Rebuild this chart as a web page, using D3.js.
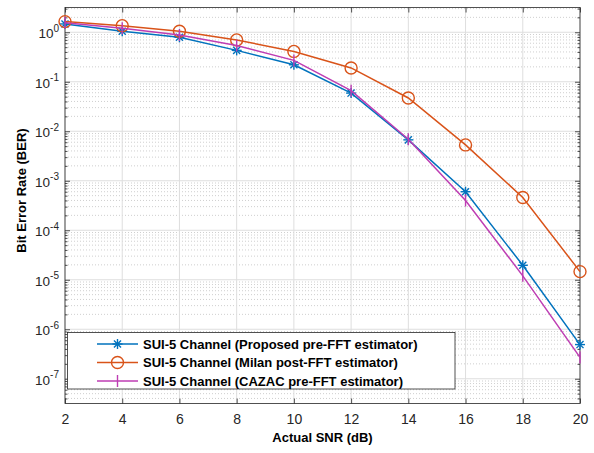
<!DOCTYPE html>
<html>
<head>
<meta charset="utf-8">
<script src="https://cdn.jsdelivr.net/npm/d3@7"></script>
<style>
  html, body { margin: 0; padding: 0; background: #ffffff; }
  svg { display: block; font-family: "Liberation Sans", Arial, sans-serif; }
</style>
</head>
<body>
<div id="chart"></div>
<script>
// ---------- data ----------
const snr = [2, 4, 6, 8, 10, 12, 14, 16, 18, 20];
const proposed = [1.47, 1.05, 0.79, 0.43, 0.22, 0.059, 0.0067, 6.0e-4, 1.96e-5, 4.9e-7];
const milan    = [1.64, 1.36, 1.05, 0.70, 0.41, 0.19, 0.047, 0.0053, 4.6e-4, 1.46e-5];
const cazac    = [1.55, 1.2, 0.88, 0.54, 0.27, 0.066, 0.0069, 4.0e-4, 1.2e-5, 2.7e-7];
const seriesNames = [
  "SUI-5 Channel (Proposed pre-FFT estimator)",
  "SUI-5 Channel (Milan post-FFT estimator)",
  "SUI-5 Channel (CAZAC pre-FFT estimator)"
];
const xTicks = [2, 4, 6, 8, 10, 12, 14, 16, 18, 20];
const yExponents = [0, -1, -2, -3, -4, -5, -6, -7];
const xLabel = "Actual SNR (dB)";
const yLabel = "Bit Error Rate (BER)";

// ---------- layout ----------
const W = 594, H = 453;
const L = 65, R = 580, T = 7.5, B = 403.5;
const axisColor = "#262626";
const colors = ["#0072BD", "#D95319", "#BE3DB3"];

const svg = d3.select("#chart").append("svg").attr("width", W).attr("height", H);
svg.append("rect").attr("width", W).attr("height", H).attr("fill", "#fff");

const x = d3.scaleLinear().domain([2, 20]).range([L, R]);
const y = d3.scaleLog().domain([Math.pow(10, -7.5), Math.pow(10, 0.5)]).range([B, T]);

// minor values
const minorVals = [];
for (let e = -8; e <= 0; e++) {
  for (let k = 2; k <= 9; k++) {
    const v = k * Math.pow(10, e);
    if (v > y.domain()[0] && v < y.domain()[1]) minorVals.push(v);
  }
}
const majorVals = yExponents.map(e => Math.pow(10, e));

const grid = svg.append("g");
grid.selectAll("line.minor").data(minorVals).join("line")
  .attr("x1", L).attr("x2", R)
  .attr("y1", d => y(d)).attr("y2", d => y(d))
  .attr("stroke", "#cfcfcf").attr("stroke-width", 1)
  .attr("stroke-dasharray", "1,2");
grid.selectAll("line.hmaj").data(majorVals).join("line")
  .attr("x1", L).attr("x2", R)
  .attr("y1", d => y(d)).attr("y2", d => y(d))
  .attr("stroke", "#dedede").attr("stroke-width", 1);
grid.selectAll("line.vmaj").data(xTicks).join("line")
  .attr("x1", d => x(d)).attr("x2", d => x(d))
  .attr("y1", T).attr("y2", B)
  .attr("stroke", "#dedede").attr("stroke-width", 1);

// ---------- axes (D3 axes, inward ticks) ----------
const xAxisB = d3.axisBottom(x).tickValues(xTicks).tickSizeInner(-5).tickSizeOuter(0).tickPadding(10.5).tickFormat(d3.format("d"));
const gxb = svg.append("g").attr("transform", `translate(0,${B})`).call(xAxisB);
const xAxisT = d3.axisTop(x).tickValues(xTicks).tickSizeInner(-5).tickSizeOuter(0).tickFormat("");
const gxt = svg.append("g").attr("transform", `translate(0,${T})`).call(xAxisT);

const yAxisL = d3.axisLeft(y).tickValues(majorVals).tickSizeInner(-5).tickSizeOuter(0).tickFormat("");
const gyl = svg.append("g").attr("transform", `translate(${L},0)`).call(yAxisL);
const yAxisR = d3.axisRight(y).tickValues(majorVals).tickSizeInner(-5).tickSizeOuter(0).tickFormat("");
const gyr = svg.append("g").attr("transform", `translate(${R},0)`).call(yAxisR);
const yMinL = d3.axisLeft(y).tickValues(minorVals).tickSizeInner(-2.5).tickSizeOuter(0).tickFormat("");
const gml = svg.append("g").attr("transform", `translate(${L},0)`).call(yMinL);
const yMinR = d3.axisRight(y).tickValues(minorVals).tickSizeInner(-2.5).tickSizeOuter(0).tickFormat("");
const gmr = svg.append("g").attr("transform", `translate(${R},0)`).call(yMinR);

[gxb, gxt, gyl, gyr, gml, gmr].forEach(g => {
  g.select(".domain").remove();
  g.selectAll(".tick line").attr("stroke", axisColor).attr("stroke-width", 0.8);
});
gxb.selectAll(".tick text").attr("fill", axisColor).attr("font-size", 14)
  .attr("font-family", "Liberation Sans, Arial, sans-serif");

// y tick labels 10^e
const ylab = svg.append("g");
yExponents.forEach(e => {
  const t = ylab.append("text")
    .attr("x", L - 6).attr("y", y(Math.pow(10, e)) + 6)
    .attr("text-anchor", "end").attr("fill", axisColor)
    .attr("font-size", 13.5);
  t.append("tspan").text("10");
  t.append("tspan").attr("dy", -6.5).attr("font-size", 10).text(String(e));
});

// box
svg.append("rect").attr("x", L).attr("y", T).attr("width", R - L).attr("height", B - T)
  .attr("fill", "none").attr("stroke", axisColor).attr("stroke-width", 0.8);

// ---------- series ----------
const allSeries = [proposed, milan, cazac];
const line = d3.line().x((d, i) => x(snr[i])).y(d => y(d));
const plot = svg.append("g");

function drawMarker(g, type, cx, cy, color) {
  if (type === 0) {
    const r = 5;
    for (let a = 0; a < 4; a++) {
      const ang = a * Math.PI / 4;
      g.append("line")
        .attr("x1", cx - r * Math.cos(ang)).attr("y1", cy - r * Math.sin(ang))
        .attr("x2", cx + r * Math.cos(ang)).attr("y2", cy + r * Math.sin(ang))
        .attr("stroke", color).attr("stroke-width", 1.4);
    }
  } else if (type === 1) {
    g.append("circle").attr("cx", cx).attr("cy", cy).attr("r", 6)
      .attr("fill", "none").attr("stroke", color).attr("stroke-width", 1.4);
  } else {
    g.append("line").attr("x1", cx).attr("x2", cx).attr("y1", cy - 6).attr("y2", cy + 6)
      .attr("stroke", color).attr("stroke-width", 1.4);
  }
}

[0, 1, 2].forEach(si => {
  const data = allSeries[si];
  plot.append("path").datum(data).attr("d", line)
    .attr("fill", "none").attr("stroke", colors[si]).attr("stroke-width", 1.5);
  const mg = plot.append("g");
  data.forEach((v, i) => drawMarker(mg, si, x(snr[i]), y(v), colors[si]));
});

// ---------- legend ----------
const lg = svg.append("g");
const lx = 67.5, ly = 332.5, lw = 387.5, lh = 56.5;
lg.append("rect").attr("x", lx).attr("y", ly).attr("width", lw).attr("height", lh)
  .attr("fill", "#fff").attr("stroke", axisColor).attr("stroke-width", 0.8);
const rowY = [344, 362.5, 381];
seriesNames.forEach((name, i) => {
  lg.append("line").attr("x1", 97).attr("x2", 138).attr("y1", rowY[i]).attr("y2", rowY[i])
    .attr("stroke", colors[i]).attr("stroke-width", 1.5);
  drawMarker(lg, i, 117.5, rowY[i], colors[i]);
  lg.append("text").attr("x", 143).attr("y", rowY[i] + 4.5)
    .attr("font-size", 13).attr("font-weight", "bold").attr("fill", "#000")
    .text(name);
});

// ---------- axis labels ----------
svg.append("text").attr("x", (L + R) / 2).attr("y", 442)
  .attr("text-anchor", "middle").attr("font-size", 13).attr("font-weight", "bold")
  .attr("fill", "#000").text(xLabel);
svg.append("text").attr("transform", `translate(25.5,190.5) rotate(-90)`)
  .attr("text-anchor", "middle").attr("font-size", 13).attr("font-weight", "bold")
  .attr("fill", "#000").text(yLabel);
</script>
</body>
</html>
